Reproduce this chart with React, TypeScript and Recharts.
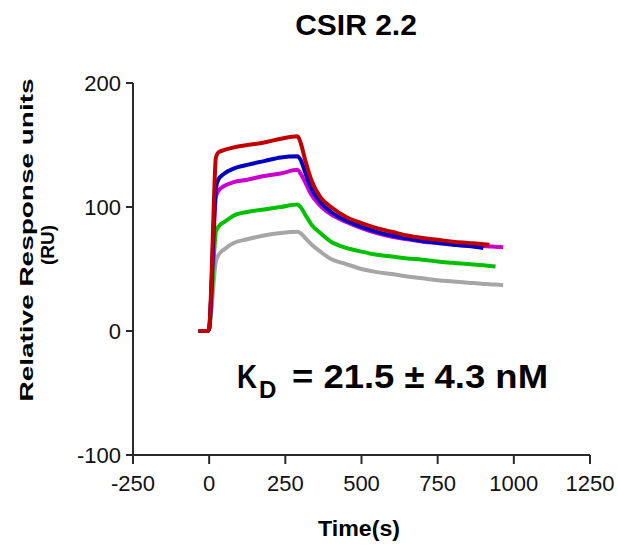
import { LineChart, Line, XAxis, YAxis } from "recharts";

// Sensorgram, time in seconds
const times = [
  -35, -5, 0, 8, 15, 22, 30, 50, 80, 125, 180, 235, 290, 300, 315, 335, 365,
  400, 450, 500, 550, 600, 650, 700, 750, 800, 850, 900, 920, 940, 965,
];

const red = [
  0, 0, 2, 45, 100, 140, 144, 146, 148, 150, 152, 155, 157, 152, 138, 122, 108,
  100, 92, 87, 83, 80, 77, 75, 73.5, 72, 71, 70, 69.5, null, null,
];
const blue = [
  0, 0, 2, 38, 85, 115, 122, 127, 131, 134, 137, 140, 141, 138, 128, 115, 104,
  96, 89, 84, 80, 77, 74.5, 72.5, 71, 69.5, 68.5, 67, null, null, null,
];
const pink = [
  0, 0, 2, 35, 78, 108, 113, 117, 120, 122, 125, 127, 130, 127, 120, 110, 101,
  94, 88, 83, 79, 76, 74, 72, 71, 70, 69, 68.5, 68.2, 68, 67.5,
];
const green = [
  0, 0, 2, 25, 58, 80, 84, 88, 93, 96, 98, 100, 102, 100, 94, 86, 79, 72, 67,
  64, 61.5, 60, 58.5, 57.5, 56, 55, 54, 53, 52.5, 52, null,
];
const gray = [
  0, 0, 2, 18, 40, 56, 61, 66, 71, 74, 77, 79, 80, 79, 75, 70, 64, 58, 54, 50,
  47.5, 46, 44, 42.5, 41, 40, 39, 38, 37.8, 37.5, 37,
];

const xTicks = [-250, 0, 250, 500, 750, 1000, 1250];
const yTicks = [-100, 0, 100, 200];

const data = times.map((t, i) => ({
  t,
  red: red[i],
  blue: blue[i],
  pink: pink[i],
  green: green[i],
  gray: gray[i],
}));

const series = [
  { key: "gray", color: "#a6a6a6" },
  { key: "green", color: "#00c000" },
  { key: "pink", color: "#cc00cc" },
  { key: "blue", color: "#0000c0" },
  { key: "red", color: "#c00000" },
];

const FONT = "'Liberation Sans', Arial, sans-serif";
const AXIS = "#2a2a2a";

export default function App() {
  return (
    <div style={{ position: "absolute", left: 0, top: 0, fontFamily: FONT }}>
      <LineChart
        width={618}
        height={546}
        data={data}
        margin={{ top: 83, right: 28, bottom: 0, left: 0 }}
      >
        <XAxis
          dataKey="t"
          type="number"
          domain={[-250, 1250]}
          ticks={xTicks}
          height={91}
          stroke={AXIS}
          strokeWidth={2}
          tickSize={9}
          tickMargin={11}
          tick={{ fontSize: 22, fill: "#111", fontFamily: FONT }}
        />
        <YAxis
          type="number"
          domain={[-100, 200]}
          ticks={yTicks}
          width={133}
          stroke={AXIS}
          strokeWidth={2}
          tickSize={7}
          tickMargin={5}
          tick={{ fontSize: 22, fill: "#111", fontFamily: FONT }}
        />
        {series.map((s) => (
          <Line
            key={s.key}
            type="monotone"
            dataKey={s.key}
            stroke={s.color}
            strokeWidth={4}
            dot={false}
            isAnimationActive={false}
          />
        ))}
        <text
          x={356}
          y={35}
          textAnchor="middle"
          fontSize={30}
          fontWeight="bold"
          fontFamily={FONT}
        >
          CSIR 2.2
        </text>
        <text
          x={359}
          y={536}
          textAnchor="middle"
          fontSize={22}
          fontWeight="bold"
          fontFamily={FONT}
          textLength={82}
          lengthAdjust="spacingAndGlyphs"
        >
          Time(s)
        </text>
        <text
          transform="translate(33,240) rotate(-90)"
          textAnchor="middle"
          fontSize={19}
          fontWeight="bold"
          fontFamily={FONT}
          textLength={323}
          lengthAdjust="spacingAndGlyphs"
        >
          Relative Response units
        </text>
        <text
          transform="translate(54,245) rotate(-90)"
          textAnchor="middle"
          fontSize={19}
          fontWeight="bold"
          fontFamily={FONT}
        >
          (RU)
        </text>
        <text
          x={237}
          y={388}
          fontSize={34}
          fontWeight="bold"
          fontFamily={FONT}
          textLength={20}
          lengthAdjust="spacingAndGlyphs"
        >
          K
        </text>
        <text x={259} y={398} fontSize={24} fontWeight="bold" fontFamily={FONT}>
          D
        </text>
        <text
          x={292}
          y={388}
          fontSize={34}
          fontWeight="bold"
          fontFamily={FONT}
          textLength={256}
          lengthAdjust="spacingAndGlyphs"
        >
          = 21.5 ± 4.3 nM
        </text>
      </LineChart>
    </div>
  );
}
